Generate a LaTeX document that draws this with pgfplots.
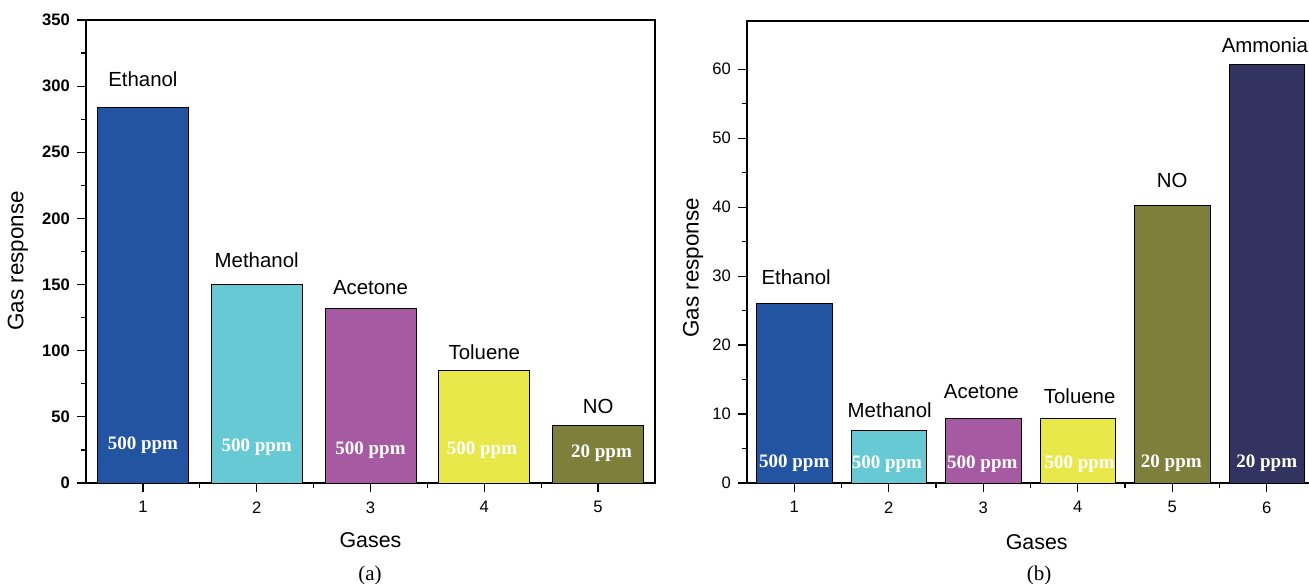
\documentclass[border=0pt]{standalone}
\usepackage{pgfplots}
\pgfplotsset{compat=1.18}
\usepackage{fontspec}
\setmainfont{Liberation Sans}
\newfontfamily\timesf{Liberation Serif}
\definecolor{cEth}{RGB}{35,84,162}
\definecolor{cMet}{RGB}{102,201,212}
\definecolor{cAce}{RGB}{166,90,162}
\definecolor{cTol}{RGB}{233,232,75}
\definecolor{cNO}{RGB}{127,127,60}
\definecolor{cAmm}{RGB}{51,51,96}
\pgfplotsset{
  gasaxis/.style={
    scale only axis, ybar, bar width=0.8, bar shift=0pt,
    axis line style={line width=0.6pt},
    tick style={line width=0.6pt, black},
    tick align=outside, xtick pos=bottom, ytick pos=left,
    major tick length=4.5pt, minor tick length=2.6pt,
    minor x tick num=1, minor y tick num=1,
    /pgf/number format/assume math mode=true,
    tick label style={font=\fontsize{8.3}{10}\selectfont},
    xticklabel style={yshift=-1.2pt},
    xlabel style={font=\fontsize{10.7}{12}\selectfont},
    ylabel style={font=\fontsize{11.2}{12}\selectfont},
    every axis plot/.append style={draw=black, line width=0.4pt},
    anchor=south west,
    clip=false,
  },
}
\tikzset{
  barlab/.style={font=\fontsize{10.2}{12}\selectfont, anchor=center},
  ppm/.style={font=\timesf\bfseries\fontsize{9.5}{11}\selectfont, text=white, anchor=center},
}
\begin{document}
\begin{tikzpicture}
\useasboundingbox (0,0) rectangle (654.5pt,291.5pt);
\clip (0,0) rectangle (654.5pt,291.5pt);
% ---------------- (a)
\begin{axis}[gasaxis, at={(43pt,50pt)}, width=284.5pt, height=231.5pt,
  xmin=0.5, xmax=5.5, ymin=0, ymax=350,
  xtick={1,2,3,4,5}, ytick={0,50,...,350},
  yticklabel style={font=\fontsize{8.3}{10}\selectfont\bfseries},
  xlabel={Gases}, ylabel={Gas response},
  xlabel style={at={(axis description cs:0.5,-0.123)}, anchor=center},
  ylabel style={at={(axis description cs:-0.1195,0.48)}, anchor=center, rotate=0},
]
\addplot[fill=cEth] coordinates {(1,284)};
\addplot[fill=cMet] coordinates {(2,150)};
\addplot[fill=cAce] coordinates {(3,132.2)};
\addplot[fill=cTol] coordinates {(4,85)};
\addplot[fill=cNO]  coordinates {(5,43.7)};
\node[barlab] at (axis cs:1,305.4) {Ethanol};
\node[barlab] at (axis cs:2,168.6) {Methanol};
\node[barlab] at (axis cs:3,147.4) {Acetone};
\node[barlab] at (axis cs:4,99) {Toluene};
\node[barlab] at (axis cs:5,58.2) {NO};
\node[ppm] at (axis cs:1,28.7) {500 ppm};
\node[ppm] at (axis cs:2,27.2) {500 ppm};
\node[ppm] at (axis cs:3,25) {500 ppm};
\node[ppm] at (axis cs:3.98,25) {500 ppm};
\node[ppm] at (axis cs:5.03,22.7) {20 ppm};
\end{axis}
% ---------------- (b)
\begin{axis}[gasaxis, at={(373.5pt,50pt)}, width=283.5pt, height=231pt,
  xmin=0.5, xmax=6.5, ymin=0, ymax=67,
  xtick={1,2,3,4,5,6}, ytick={0,10,...,60},
  xlabel={Gases}, ylabel={Gas response},
  xlabel style={at={(axis description cs:0.511,-0.127)}, anchor=center},
  ylabel style={at={(axis description cs:-0.095,0.466)}, anchor=center, rotate=0},
]
\addplot[fill=cEth] coordinates {(1,26.1)};
\addplot[fill=cMet] coordinates {(2,7.6)};
\addplot[fill=cAce] coordinates {(3,9.4)};
\addplot[fill=cTol] coordinates {(4,9.3)};
\addplot[fill=cNO]  coordinates {(5,40.2)};
\addplot[fill=cAmm] coordinates {(6,60.7)};
\node[barlab] at (axis cs:1.02,29.9) {Ethanol};
\node[barlab] at (axis cs:2.01,10.6) {Methanol};
\node[barlab] at (axis cs:2.98,13.2) {Acetone};
\node[barlab] at (axis cs:4.02,12.6) {Toluene};
\node[barlab] at (axis cs:5,43.8) {NO};
\node[barlab] at (axis cs:5.98,63.5) {Ammonia};
\node[ppm] at (axis cs:1,2.93) {500 ppm};
\node[ppm] at (axis cs:1.98,2.66) {500 ppm};
\node[ppm] at (axis cs:2.99,2.66) {500 ppm};
\node[ppm] at (axis cs:4.02,2.66) {500 ppm};
\node[ppm] at (axis cs:4.99,2.93) {20 ppm};
\node[ppm] at (axis cs:6,2.93) {20 ppm};
\end{axis}
\node[font=\timesf\fontsize{10.5}{12}\selectfont] at (185pt,3.8pt) {(a)};
\node[font=\timesf\fontsize{10.5}{12}\selectfont] at (519.5pt,3.8pt) {(b)};
\end{tikzpicture}
\end{document}
